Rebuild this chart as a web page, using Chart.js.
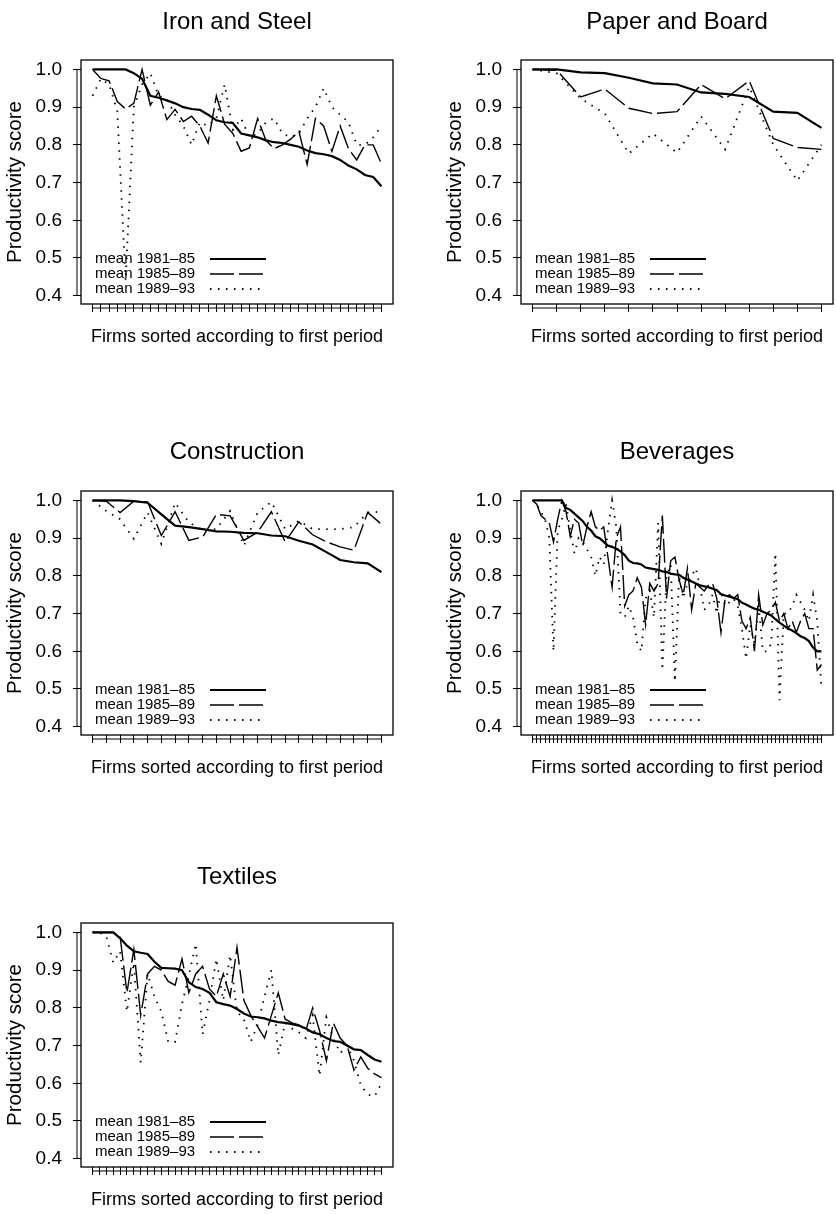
<!DOCTYPE html>
<html lang="en">
<head>
<meta charset="UTF-8" />
<title>Productivity scores by industry</title>
<script src="https://cdn.jsdelivr.net/npm/chart.js"></script>
<style>
  body { margin: 0; background: #fff; }
  #page { position: relative; width: 836px; height: 1214px; overflow: hidden; }
  canvas { position: absolute; }
</style>
</head>
<body>
<div id="page">
  <canvas id="iron" width="396" height="360" style="left:0;top:0"></canvas>
  <canvas id="paper" width="396" height="360" style="left:440px;top:0"></canvas>
  <canvas id="constr" width="396" height="360" style="left:0;top:431px"></canvas>
  <canvas id="bev" width="396" height="360" style="left:440px;top:431px"></canvas>
  <canvas id="textiles" width="396" height="351" style="left:0;top:863px"></canvas>
</div>
<script>
const periods = ['mean 1981\u201385', 'mean 1985\u201389', 'mean 1989\u201393'];
const yTicks = [0.4, 0.45, 0.5, 0.55, 0.6, 0.65, 0.7, 0.75, 0.8, 0.85, 0.9, 0.95, 1.0];

// Iron and Steel, 36 firms
const iron81 = [1.0, 1.0, 1.0, 1.0, 1.0, 0.99, 0.975, 0.93, 0.925, 0.918, 0.91, 0.9, 0.895, 0.893, 0.88, 0.865, 0.86, 0.858,
  0.83, 0.825, 0.82, 0.812, 0.807, 0.805, 0.8, 0.795, 0.785, 0.778, 0.775, 0.77, 0.76, 0.745, 0.735, 0.72, 0.715, 0.69];
const iron85 = [1.0, 0.976, 0.97, 0.915, 0.895, 0.91, 1.0, 0.905, 0.94, 0.867, 0.894, 0.862, 0.876, 0.85, 0.805, 0.93, 0.855, 0.83,
  0.783, 0.792, 0.87, 0.812, 0.79, 0.8, 0.815, 0.836, 0.748, 0.87, 0.85, 0.783, 0.85, 0.79, 0.76, 0.8, 0.8, 0.75];
const iron89 = [0.93, 0.975, 0.96, 0.89, 0.44, 0.9, 0.96, 0.99, 0.93, 0.92, 0.88, 0.85, 0.8, 0.86, 0.85, 0.87, 0.96, 0.84,
  0.87, 0.82, 0.83, 0.86, 0.87, 0.83, 0.82, 0.83, 0.87, 0.9, 0.95, 0.9, 0.88, 0.86, 0.8, 0.8, 0.82, 0.85];

// Paper and Board, 13 firms
const paper81 = [1.0, 1.0, 0.992, 0.99, 0.978, 0.963, 0.96, 0.939, 0.935, 0.927, 0.888, 0.885, 0.845];
const paper85 = [1.0, 0.998, 0.927, 0.948, 0.897, 0.883, 0.888, 0.96, 0.922, 0.97, 0.817, 0.793, 0.788];
const paper89 = [1.0, 0.99, 0.923, 0.883, 0.777, 0.83, 0.779, 0.875, 0.788, 0.954, 0.8, 0.705, 0.8];

// Construction, 22 firms
const constr81 = [1.0, 1.0, 1.0, 0.998, 0.994, 0.963, 0.933, 0.929, 0.924, 0.918, 0.917, 0.914, 0.913, 0.907, 0.905, 0.893,
  0.883, 0.863, 0.842, 0.836, 0.833, 0.81];
const constr85 = [1.0, 0.998, 0.968, 0.998, 0.996, 0.907, 0.97, 0.894, 0.903, 0.963, 0.959, 0.894, 0.916, 0.97, 0.89, 0.943,
  0.909, 0.89, 0.877, 0.868, 0.968, 0.937];
const constr89 = [1.0, 0.972, 0.95, 0.898, 0.968, 0.885, 0.994, 0.942, 0.92, 0.924, 0.972, 0.88, 0.968, 0.996, 0.924, 0.946,
  0.924, 0.924, 0.924, 0.929, 0.968, 0.97];

// Beverages, 70 firms
const bev81 = [1.0, 1.0, 1.0, 1.0, 1.0, 1.0, 1.0, 1.0, 0.98, 0.975, 0.965, 0.955, 0.945, 0.93, 0.92, 0.905, 0.9, 0.89,
  0.88, 0.877, 0.872, 0.865, 0.855, 0.84, 0.834, 0.833, 0.83, 0.822, 0.82, 0.818, 0.816, 0.812, 0.81, 0.806, 0.804, 0.803,
  0.795, 0.79, 0.785, 0.78, 0.775, 0.772, 0.77, 0.766, 0.762, 0.752, 0.748, 0.745, 0.742, 0.738, 0.729, 0.724, 0.718, 0.713,
  0.71, 0.705, 0.7, 0.695, 0.685, 0.676, 0.668, 0.66, 0.655, 0.648, 0.64, 0.635, 0.627, 0.61, 0.6, 0.6];
const bev85 = [1.0, 0.99, 0.96, 0.95, 0.94, 0.89, 0.95, 1.0, 0.97, 0.905, 0.95, 0.94, 0.88, 0.93, 0.97, 0.93, 0.92, 0.93,
  0.85, 0.77, 0.9, 0.93, 0.72, 0.75, 0.76, 0.795, 0.77, 0.67, 0.78, 0.76, 0.78, 0.96, 0.74, 0.84, 0.85, 0.79,
  0.75, 0.82, 0.71, 0.78, 0.77, 0.76, 0.775, 0.78, 0.74, 0.65, 0.74, 0.75, 0.74, 0.75, 0.68, 0.66, 0.69, 0.6,
  0.75, 0.67, 0.7, 0.71, 0.73, 0.68, 0.7, 0.66, 0.68, 0.65, 0.68, 0.7, 0.66, 0.66, 0.55, 0.565];
const bev89 = [1.0, 0.99, 0.97, 0.95, 0.9, 0.6, 0.92, 0.95, 0.99, 0.92, 0.86, 0.9, 0.89, 0.87, 0.85, 0.8, 0.85, 0.83,
  0.92, 1.0, 0.93, 0.7, 0.69, 0.72, 0.69, 0.62, 0.6, 0.74, 0.76, 0.69, 0.94, 0.55, 0.8, 0.83, 0.52, 0.8,
  0.74, 0.78, 0.8, 0.82, 0.77, 0.71, 0.72, 0.75, 0.7, 0.76, 0.72, 0.73, 0.74, 0.72, 0.66, 0.58, 0.67, 0.62,
  0.72, 0.6, 0.6, 0.62, 0.86, 0.47, 0.7, 0.7, 0.72, 0.75, 0.73, 0.71, 0.68, 0.75, 0.68, 0.5];

// Textiles, 43 firms
const tex81 = [1.0, 1.0, 1.0, 1.0, 0.985, 0.965, 0.95, 0.946, 0.943, 0.922, 0.906, 0.905, 0.904, 0.9, 0.868, 0.855, 0.85,
  0.84, 0.815, 0.81, 0.806, 0.797, 0.785, 0.777, 0.775, 0.772, 0.766, 0.762, 0.76, 0.757, 0.753, 0.745, 0.735, 0.73,
  0.72, 0.712, 0.71, 0.7, 0.69, 0.688, 0.675, 0.663, 0.657];
const tex85 = [1.0, 1.0, 1.0, 1.0, 0.99, 0.84, 0.955, 0.78, 0.89, 0.91, 0.9, 0.87, 0.86, 0.93, 0.84, 0.89, 0.91,
  0.85, 0.83, 0.89, 0.83, 0.96, 0.82, 0.78, 0.75, 0.72, 0.78, 0.84, 0.77, 0.76, 0.755, 0.74, 0.8, 0.74,
  0.66, 0.76, 0.72, 0.7, 0.635, 0.67, 0.64, 0.625, 0.615];
const tex89 = [1.0, 1.0, 0.99, 0.92, 0.95, 0.79, 0.92, 0.655, 0.89, 0.83, 0.79, 0.71, 0.71, 0.81, 0.885, 0.97, 0.73,
  0.82, 0.93, 0.82, 0.94, 0.79, 0.77, 0.71, 0.755, 0.83, 0.9, 0.675, 0.76, 0.745, 0.735, 0.72, 0.78, 0.62,
  0.775, 0.72, 0.68, 0.7, 0.66, 0.595, 0.57, 0.565, 0.6];

const font = 'Liberation Sans, Arial, Helvetica, sans-serif';
const lineStyles = [
  { borderWidth: 2.2, borderDash: [] },
  { borderWidth: 1.4, borderDash: [24, 5] },
  { borderWidth: 1.8, borderDash: [1.5, 6.5] }
];

// box, R-style axis lines and the in-plot legend
const frame = {
  id: 'frame',
  afterDatasetsDraw(chart) {
    const { ctx, chartArea: ca, scales } = chart;
    const n = chart.data.datasets[0].data.length;
    ctx.save();
    ctx.strokeStyle = '#000';
    ctx.lineWidth = 1.3;
    ctx.setLineDash([]);
    ctx.strokeRect(ca.left, ca.top, ca.right - ca.left, ca.bottom - ca.top);
    ctx.lineWidth = 1;
    ctx.beginPath();
    ctx.moveTo(ca.left - 4, scales.y.getPixelForValue(yTicks[0]));
    ctx.lineTo(ca.left - 4, scales.y.getPixelForValue(yTicks[yTicks.length - 1]));
    ctx.moveTo(scales.x.getPixelForValue(1), ca.bottom + 4);
    ctx.lineTo(scales.x.getPixelForValue(n), ca.bottom + 4);
    ctx.stroke();

    ctx.font = '15px ' + font;
    ctx.fillStyle = '#000';
    ctx.textBaseline = 'middle';
    chart.data.datasets.forEach((ds, i) => {
      const yy = ca.bottom - 45 + i * 15;
      ctx.fillText(ds.label, ca.left + 14, yy);
      ctx.beginPath();
      ctx.lineWidth = ds.borderWidth;
      ctx.setLineDash(ds.borderDash);
      ctx.moveTo(ca.left + 129, yy);
      ctx.lineTo(ca.left + 185, yy);
      ctx.stroke();
    });
    ctx.restore();
  }
};

function drawPanel(id, title, series, titleTop) {
  const canvas = document.getElementById(id);
  const h = canvas.height;
  const n = series[0].length;
  const firms = series[0].map((_, i) => i + 1);
  const ext = 0.04 * (n - 1);
  new Chart(canvas.getContext('2d'), {
    type: 'line',
    data: {
      datasets: series.map((vals, k) => ({
        label: periods[k],
        data: firms.map((f, i) => ({ x: f, y: vals[i] })),
        borderColor: '#000',
        borderWidth: lineStyles[k].borderWidth,
        borderDash: lineStyles[k].borderDash,
        pointRadius: 0,
        tension: 0,
        fill: false
      }))
    },
    options: {
      responsive: false,
      animation: false,
      devicePixelRatio: 1,
      layout: { padding: { left: 0, right: 3, top: 0, bottom: 0 } },
      plugins: {
        legend: { display: false },
        tooltip: { enabled: false },
        title: {
          display: true,
          fullSize: false,
          text: title,
          color: '#000',
          font: { family: font, size: 24, weight: 'normal', lineHeight: 1.2 },
          padding: { top: titleTop, bottom: 60 - titleTop - 28.8 }
        }
      },
      scales: {
        x: {
          type: 'linear',
          min: 1 - ext,
          max: n + ext,
          afterBuildTicks: s => { s.ticks = firms.map(v => ({ value: v })); },
          afterFit: s => { s.height = h - 304; },
          ticks: { callback: () => '', padding: 0 },
          grid: { drawOnChartArea: false, drawTicks: true, tickLength: 8, color: '#000', lineWidth: 1 },
          border: { display: false },
          title: {
            display: true,
            text: 'Firms sorted according to first period',
            color: '#000',
            font: { family: font, size: 18, lineHeight: 1.2 },
            padding: { top: 0, bottom: h - 337 - 10.8 }
          }
        },
        y: {
          min: 0.378,
          max: 1.025,
          afterBuildTicks: s => { s.ticks = yTicks.map(v => ({ value: v })); },
          afterFit: s => { s.width = 81; },
          ticks: {
            color: '#000',
            padding: 11,
            font: { family: font, size: 19 },
            callback: v => (Math.abs(v * 10 - Math.round(v * 10)) < 1e-6 ? v.toFixed(1) : '')
          },
          grid: { drawOnChartArea: false, drawTicks: true, tickLength: 8, color: '#000', lineWidth: 1 },
          border: { display: false },
          title: {
            display: true,
            text: 'Productivity score',
            color: '#000',
            font: { family: font, size: 20.5, lineHeight: 1.2 },
            padding: { top: 2.7, bottom: 0 }
          }
        }
      }
    },
    plugins: [frame]
  });
}

drawPanel('iron', 'Iron and Steel', [iron81, iron85, iron89], 7.6);
drawPanel('paper', 'Paper and Board', [paper81, paper85, paper89], 7.6);
drawPanel('constr', 'Construction', [constr81, constr85, constr89], 7);
drawPanel('bev', 'Beverages', [bev81, bev85, bev89], 7);
drawPanel('textiles', 'Textiles', [tex81, tex85, tex89], 0);
</script>
</body>
</html>
